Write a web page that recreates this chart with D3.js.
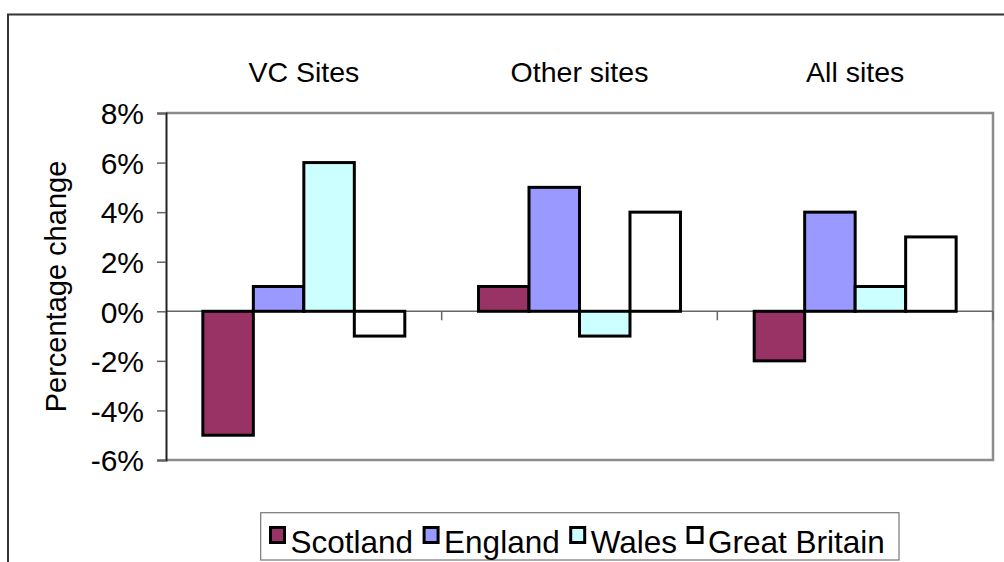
<!DOCTYPE html>
<html>
<head>
<meta charset="utf-8">
<script src="https://cdn.jsdelivr.net/npm/d3@7"></script>
<style>
  body { margin: 0; background: #fff; }
  svg { display: block; }
  text { font-family: "Liberation Sans", Arial, sans-serif; fill: #000; }
</style>
</head>
<body>
<svg id="chart" width="1004" height="562"></svg>
<script>
const kategorije = ["VC Sites", "Other sites", "All sites"];
const serije = ["Scotland", "England", "Wales", "Great Britain"];
const boje = ["#993366", "#9999ff", "#ccffff", "#ffffff"];
const scotland = [-5, 1, -2];
const england = [1, 5, 4];
const wales = [6, -1, 1];
const greatBritain = [-1, 4, 3];
const yTicks = [-6, -4, -2, 0, 2, 4, 6, 8];

const vrijednosti = [scotland, england, wales, greatBritain];
const podaci = [];
kategorije.forEach((k, i) => {
  serije.forEach((s, j) => {
    podaci.push({ kat: k, serija: s, v: vrijednosti[j][i], boja: boje[j] });
  });
});

const svg = d3.select("#chart");
const fs = 29;

// vanjski okvir grafa (odrezan rubom slike)
svg.append("rect")
  .attr("x", 8).attr("y", 14.5)
  .attr("width", 1100).attr("height", 700)
  .attr("fill", "none").attr("stroke", "#333").attr("stroke-width", 2);

const plot = { left: 166, right: 993, top: 113, bottom: 460 };

const x0 = d3.scaleBand().domain(kategorije)
  .range([plot.left, plot.right]).padding(0);
const x1 = d3.scaleBand().domain(serije)
  .range([0, x0.bandwidth()]).paddingInner(0).paddingOuter(0.73);
const y = d3.scaleLinear().domain([-6, 8]).range([plot.bottom, plot.top]);

// okvir podrucja crtanja: gore, desno, dolje sivo
svg.append("path")
  .attr("d", `M${plot.left},${plot.top}H${plot.right}V${plot.bottom}H${plot.left}`)
  .attr("fill", "none").attr("stroke", "#8c8c8c").attr("stroke-width", 2.5);

// nulta linija s oznakama kategorija
svg.append("line")
  .attr("x1", plot.left).attr("x2", plot.right)
  .attr("y1", y(0)).attr("y2", y(0))
  .attr("stroke", "#666").attr("stroke-width", 1.5);
svg.selectAll(".ktick")
  .data(kategorije)
  .join("line")
  .attr("x1", (d) => x0(d) + x0.bandwidth())
  .attr("x2", (d) => x0(d) + x0.bandwidth())
  .attr("y1", y(0)).attr("y2", y(0) + 9)
  .attr("stroke", "#666").attr("stroke-width", 1.5);

// y os
const yAxis = svg.append("g")
  .attr("transform", `translate(${plot.left},0)`)
  .call(d3.axisLeft(y).tickValues(yTicks).tickSize(9).tickPadding(13)
    .tickFormat((d) => d + "%"));
yAxis.select(".domain").attr("stroke", "#222").attr("stroke-width", 2);
yAxis.selectAll(".tick line").attr("stroke", "#666").attr("stroke-width", 1.5);
yAxis.selectAll(".tick text")
  .attr("font-size", fs + 1)
  .attr("font-family", '"Liberation Sans", Arial, sans-serif')
  .attr("fill", "#000")
  .attr("dy", "0.36em");

svg.append("text")
  .attr("transform", `translate(66,${(plot.top + plot.bottom) / 2}) rotate(-90)`)
  .attr("text-anchor", "middle")
  .attr("font-size", fs)
  .text("Percentage change");

// stupci
svg.selectAll(".bar")
  .data(podaci)
  .join("rect")
  .attr("class", "bar")
  .attr("x", (d) => x0(d.kat) + x1(d.serija))
  .attr("width", x1.bandwidth())
  .attr("y", (d) => y(Math.max(0, d.v)))
  .attr("height", (d) => Math.abs(y(d.v) - y(0)))
  .attr("fill", (d) => d.boja)
  .attr("stroke", "#000")
  .attr("stroke-width", 3);

// nazivi kategorija iznad grafa
svg.selectAll(".klabel")
  .data(kategorije)
  .join("text")
  .attr("x", (d) => x0(d) + x0.bandwidth() / 2)
  .attr("y", 82)
  .attr("text-anchor", "middle")
  .attr("font-size", fs - 0.5)
  .text((d) => d);

// legenda
const leg = svg.append("g");
leg.append("rect")
  .attr("x", 260.7).attr("y", 512.7)
  .attr("width", 638.3).attr("height", 47.3)
  .attr("fill", "#fff").attr("stroke", "#777").attr("stroke-width", 1.2);
let lx = 270.5;
serije.forEach((s, i) => {
  leg.append("rect")
    .attr("x", lx).attr("y", 527.5)
    .attr("width", 14).attr("height", 15)
    .attr("fill", boje[i]).attr("stroke", "#000").attr("stroke-width", 3);
  const t = leg.append("text")
    .attr("x", lx + 20).attr("y", 552.5)
    .attr("font-size", 31.5)
    .text(s);
  lx = lx + 20 + t.node().getComputedTextLength() + 11;
});
</script>
</body>
</html>
